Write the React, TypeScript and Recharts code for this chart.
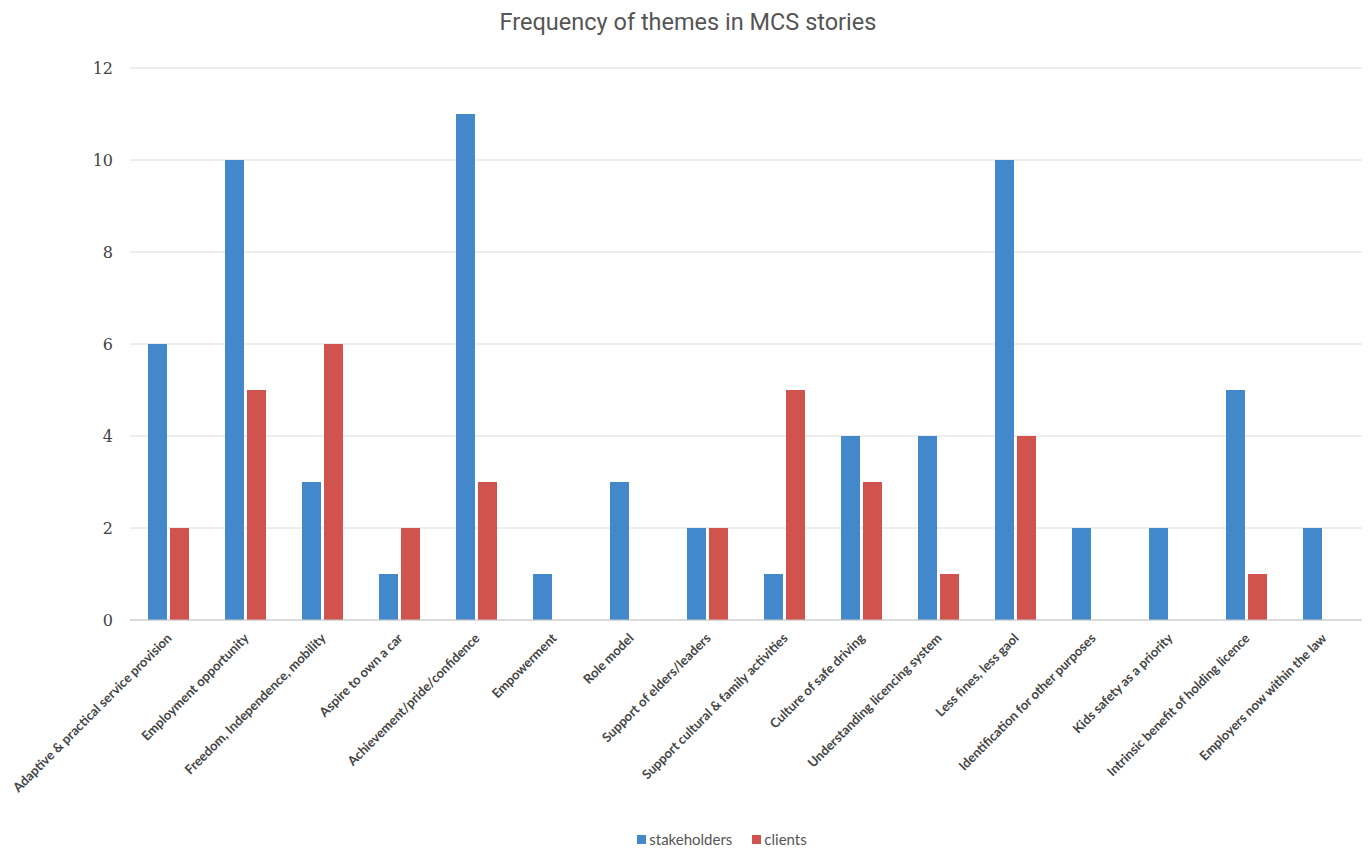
import React from 'react';
import { BarChart, Bar, XAxis, YAxis, CartesianGrid, Legend } from 'recharts';

const themes = [
  'Adaptive & practical service provision',
  'Employment opportunity',
  'Freedom, Independence, mobility',
  'Aspire to own a car',
  'Achievement/pride/confidence',
  'Empowerment',
  'Role model',
  'Support of elders/leaders',
  'Support cultural & family activities',
  'Culture of safe driving',
  'Understanding licencing system',
  'Less fines, less gaol',
  'Identification for other purposes',
  'Kids safety as a priority',
  'Intrinsic benefit of holding licence',
  'Employers now within the law',
];
const stakeholders = [6, 10, 3, 1, 11, 1, 3, 2, 1, 4, 4, 10, 2, 2, 5, 2];
const clients = [2, 5, 6, 2, 3, 0, 0, 2, 5, 3, 1, 4, 0, 0, 1, 0];
const yTicks = [0, 2, 4, 6, 8, 10, 12];

const BLUE = '#4488cc';
const RED = '#d0534d';

const data = themes.map((t, i) => ({ theme: t, stakeholders: stakeholders[i], clients: clients[i] }));

const ThemeTick = (props: any) => {
  const { x, y, payload } = props;
  return (
    <g transform={`translate(${x + 4},${y + 11})`}>
      <text
        textAnchor="end"
        transform="rotate(-45)"
        fontFamily="Lato, 'Open Sans', sans-serif"
        fontWeight={700}
        fontSize={13}
        fill="#444"
      >
        {payload.value}
      </text>
    </g>
  );
};

const LegendBox = () => (
  <div style={{ display: 'flex', justifyContent: 'center', gap: 20, fontFamily: 'Lato, sans-serif', fontSize: 15, color: '#555', paddingLeft: 12, paddingTop: 14 }}>
    <span style={{ display: 'flex', alignItems: 'center' }}>
      <span style={{ width: 9, height: 9, background: BLUE, marginRight: 3 }} />stakeholders
    </span>
    <span style={{ display: 'flex', alignItems: 'center' }}>
      <span style={{ width: 9, height: 9, background: RED, marginRight: 3 }} />clients
    </span>
  </div>
);

export default function App() {
  return (
    <div style={{ position: 'relative', width: 1372, height: 850, background: '#fff' }}>
      <style>{'body{margin:0}'}</style>
      <div
        style={{
          position: 'absolute',
          top: 8,
          left: 0,
          width: 1376,
          textAlign: 'center',
          fontFamily: 'Roboto, sans-serif',
          fontSize: 23.5,
          color: '#555',
        }}
      >
        Frequency of themes in MCS stories
      </div>
      <BarChart
        width={1372}
        height={850}
        data={data}
        margin={{ top: 68, right: 10, left: 70, bottom: 4 }}
        barSize={19}
        barGap={3}
      >
        <CartesianGrid vertical={false} stroke="#dcdcdc" />
        <XAxis
          dataKey="theme"
          interval={0}
          tick={<ThemeTick />}
          tickLine={false}
          axisLine={{ stroke: '#c8c8c8' }}
          height={196}
        />
        <YAxis
          domain={[0, 12]}
          ticks={yTicks}
          width={60}
          tickLine={false}
          axisLine={false}
          tickMargin={11}
          tick={{ fontFamily: "'DejaVu Serif', serif", fontSize: 16, fill: '#444' }}
        />
        <Legend verticalAlign="bottom" height={30} content={<LegendBox />} />
        <Bar dataKey="stakeholders" fill={BLUE} isAnimationActive={false} />
        <Bar dataKey="clients" fill={RED} isAnimationActive={false} />
      </BarChart>
    </div>
  );
}
